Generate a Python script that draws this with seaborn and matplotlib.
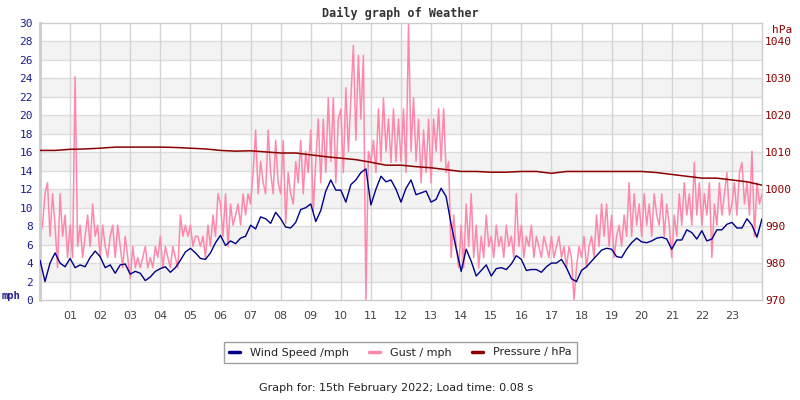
import numpy as np
import pandas as pd
import matplotlib
matplotlib.use("Agg")
import matplotlib.pyplot as plt
import seaborn as sns

# ---------- DATA ----------
# wind speed, mph, every 10 minutes from 00:00 to 24:00
wind_speed = [
    4.3, 2.0, 4.0, 5.1, 4.0, 3.6,      # 00
    4.5, 3.5, 3.8, 3.6, 4.6, 5.3,      # 01
    4.7, 3.5, 3.8, 2.9, 3.8, 3.9,      # 02
    2.8, 3.1, 2.9, 2.1, 2.5, 3.1,      # 03
    3.4, 3.6, 3.0, 3.5, 4.3, 5.2,      # 04
    5.6, 5.1, 4.5, 4.4, 5.1, 6.2,      # 05
    7.0, 5.9, 6.4, 6.1, 6.7, 6.9,      # 06
    8.1, 7.7, 9.0, 8.8, 8.3, 9.5,      # 07
    8.8, 7.9, 7.8, 8.4, 9.8, 10.0,     # 08
    10.4, 8.5, 9.7, 11.8, 13.0, 11.9,  # 09
    11.9, 10.6, 12.5, 13.0, 13.8, 14.2,  # 10
    10.3, 12.0, 13.4, 12.8, 13.0, 12.0,  # 11
    10.6, 12.1, 13.0, 11.4, 11.6, 11.8,  # 12
    10.6, 10.9, 12.1, 11.2, 8.2, 5.6,  # 13
    3.1, 5.5, 4.2, 2.6, 3.2, 3.8,      # 14
    2.6, 3.4, 3.5, 3.3, 3.9, 4.8,      # 15
    4.4, 3.2, 3.3, 3.3, 3.0, 3.6,      # 16
    4.0, 4.0, 4.4, 3.5, 2.3, 2.0,      # 17
    3.2, 3.6, 4.2, 4.8, 5.4, 5.6,      # 18
    5.5, 4.7, 4.6, 5.5, 6.2, 6.7,      # 19
    6.3, 6.2, 6.4, 6.7, 6.8, 6.6,      # 20
    5.5, 6.5, 6.5, 7.6, 7.3, 6.6,      # 21
    7.5, 6.4, 6.6, 7.6, 7.6, 8.2,      # 22
    8.4, 7.8, 7.8, 8.8, 8.1, 6.8,      # 23
    8.8,
]

# gust, mph, every 5 minutes
gust = [
    6.9, 8.1, 11.5, 12.7, 6.9, 11.5, 8.1, 3.5, 11.5, 6.9, 9.2, 4.6,        # 00
    8.1, 4.6, 24.2, 5.8, 8.1, 4.6, 6.9, 9.2, 5.8, 10.4, 6.9, 8.1,          # 01
    4.6, 8.1, 5.8, 4.6, 6.9, 8.1, 4.6, 8.1, 5.8, 3.5, 6.9, 4.6,            # 02
    2.3, 5.8, 3.5, 4.6, 3.5, 4.6, 5.8, 3.5, 4.6, 3.5, 5.8, 4.6,            # 03
    6.9, 3.5, 5.8, 4.6, 3.5, 5.8, 4.6, 3.5, 9.2, 6.9, 8.1, 6.9,            # 04
    8.1, 5.8, 6.9, 6.9, 5.8, 6.9, 4.6, 8.1, 5.8, 9.2, 6.9, 11.5,           # 05
    10.4, 6.9, 11.5, 5.8, 10.4, 8.1, 9.2, 10.4, 8.1, 11.5, 9.2, 11.5,      # 06
    10.4, 13.8, 18.4, 11.5, 15.0, 12.7, 11.5, 18.4, 13.8, 11.5, 17.3, 12.7,  # 07
    11.5, 17.3, 8.3, 13.8, 11.5, 10.4, 15.0, 12.7, 17.3, 11.5, 16.1, 13.8,   # 08
    18.4, 9.6, 15.0, 19.6, 12.7, 19.6, 13.8, 21.9, 15.0, 21.9, 12.7, 19.6,   # 09
    20.7, 13.8, 23.0, 16.1, 21.9, 27.6, 17.3, 26.5, 19.6, 26.5, 0.0, 16.1,   # 10
    15.0, 17.3, 13.8, 20.7, 15.0, 21.9, 16.1, 19.6, 14.9, 20.7, 15.0, 19.6,  # 11
    15.0, 20.7, 13.8, 29.9, 16.1, 21.9, 15.0, 19.6, 12.7, 18.4, 13.8, 19.6,  # 12
    12.7, 19.6, 16.1, 20.7, 15.0, 20.7, 13.8, 15.0, 4.6, 9.2, 5.8, 3.5,      # 13
    8.1, 3.5, 10.4, 5.8, 11.5, 4.6, 8.1, 3.5, 6.9, 4.6, 9.2, 5.8,          # 14
    6.9, 4.6, 8.1, 5.8, 6.9, 4.6, 8.1, 5.8, 6.9, 4.6, 11.5, 5.8,           # 15
    8.1, 4.6, 6.9, 5.8, 8.1, 4.6, 6.9, 5.8, 4.6, 6.9, 5.8, 4.6,            # 16
    6.9, 4.6, 5.8, 6.9, 4.6, 5.8, 3.5, 5.8, 4.6, 0.0, 3.5, 5.8,            # 17
    4.6, 6.9, 3.5, 5.8, 6.9, 4.6, 9.2, 5.8, 10.4, 6.9, 10.4, 5.8,          # 18
    9.2, 4.6, 6.9, 8.1, 5.8, 9.2, 6.9, 12.7, 6.9, 11.5, 8.1, 10.4,         # 19
    6.9, 11.5, 8.1, 10.4, 6.9, 11.5, 9.2, 8.1, 11.5, 6.9, 10.4, 8.1,       # 20
    4.6, 9.2, 6.9, 11.5, 8.1, 12.7, 9.2, 11.5, 8.1, 14.9, 9.2, 12.7,       # 21
    8.1, 11.5, 9.2, 12.7, 4.6, 10.4, 8.1, 12.7, 9.2, 11.5, 13.8, 9.2,      # 22
    10.4, 12.7, 9.2, 13.8, 14.9, 10.4, 12.7, 9.2, 16.1, 6.9, 12.7, 10.4,   # 23
    11.5,
]

# pressure, hPa, every 30 minutes
pressure = [
    1010.5, 1010.5, 1010.8, 1010.9, 1011.1, 1011.4, 1011.4, 1011.4,
    1011.4, 1011.3, 1011.1, 1010.9, 1010.5, 1010.3, 1010.4, 1010.1,
    1009.8, 1009.8, 1009.3, 1008.8, 1008.4, 1008.0, 1007.3, 1006.5,
    1006.5, 1006.1, 1005.8, 1005.3, 1004.8, 1004.8, 1004.6, 1004.6,
    1004.8, 1004.8, 1004.3, 1004.8, 1004.8, 1004.8, 1004.8, 1004.8,
    1004.8, 1004.5, 1004.0, 1003.5, 1003.0, 1003.0, 1002.5, 1002.0,
    1001.1,
]

hour_labels = ["%02d" % h for h in range(1, 24)]
mph_ticks = list(range(0, 31, 2))
hpa_ticks = list(range(970, 1041, 10))

WIND_COL = "#000088"
GUST_COL = "#ff88aa"
PRES_COL = "#8b0000"

# ---------- FRAMES ----------
wind_df = pd.DataFrame({"hour": np.arange(len(wind_speed)) / 6, "mph": wind_speed})
gust_df = pd.DataFrame({"hour": np.arange(len(gust)) / 12, "mph": gust})
pres_df = pd.DataFrame({"hour": np.arange(len(pressure)) / 2, "hPa": pressure})

# ---------- PLOT ----------
sns.set_style("white")
plt.rcParams["font.family"] = ["DejaVu Sans"]

fig = plt.figure(figsize=(8, 4), dpi=100)
ax = fig.add_axes([0.05, 0.25, 0.9025, 0.6925])

# alternating bands + grid
for lo in range(2, 30, 4):
    ax.axhspan(lo, lo + 2, color="#f3f3f3", zorder=0, lw=0)
for y in mph_ticks[1:-1]:
    ax.axhline(y, color="#dcdcdc", lw=1, zorder=0.5)
for h in range(1, 24):
    ax.axvline(h, color="#d4d4d4", lw=1, zorder=0.5)

sns.lineplot(data=gust_df, x="hour", y="mph", ax=ax, color=GUST_COL, lw=1.1,
             label="Gust / mph", legend=False, zorder=2)
sns.lineplot(data=wind_df, x="hour", y="mph", ax=ax, color=WIND_COL, lw=1,
             label="Wind Speed /mph", legend=False, zorder=3)

ax.set_xlim(0, 24)
ax.set_ylim(0, 30)
ax.set_yticks(mph_ticks)
ax.set_yticklabels([str(t) for t in mph_ticks], family="DejaVu Sans Mono",
                   fontsize=8, color="#1c1c8c")
ax.set_xticks(range(1, 24))
ax.set_xticklabels(hour_labels, fontsize=8, color="#444444")
ax.tick_params(axis="y", length=0, pad=5)
ax.tick_params(axis="x", length=0, pad=8)
ax.set_xlabel("")
ax.set_ylabel("")
for s in ax.spines.values():
    s.set_color("#cccccc")
    s.set_linewidth(1)
ax.spines["left"].set_linewidth(2)

ax2 = ax.twinx()
sns.lineplot(data=pres_df, x="hour", y="hPa", ax=ax2, color=PRES_COL, lw=1.1,
             label="Pressure / hPa", legend=False)
ax2.set_ylim(970, 1045)
ax2.set_yticks(hpa_ticks)
ax2.set_yticklabels([str(t) for t in hpa_ticks], family="DejaVu Sans Mono",
                    fontsize=8, color=PRES_COL)
ax2.tick_params(axis="y", length=0, pad=2)
ax2.set_ylabel("")
for s in ax2.spines.values():
    s.set_visible(False)
ax.set_xlim(0, 24)

# texts
fig.text(0.5, 1 - 13 / 400, "Daily graph of Weather", ha="center", va="center",
         family="DejaVu Sans Mono", weight="bold", fontsize=8.5, color="#333333")
fig.text(0.002, 1 - 296 / 400, "mph", ha="left", va="center", weight="bold",
         fontsize=7.5, color="#1c1c8c", family="DejaVu Sans Mono")
fig.text(782 / 800, 1 - 30 / 400, "hPa", ha="center", va="center",
         fontsize=8, color=PRES_COL, family="DejaVu Sans Mono")
fig.text(396 / 800, 1 - 388 / 400,
         "Graph for: 15th February 2022; Load time: 0.08 s",
         ha="center", va="center", fontsize=8, color="#222222")

handles = ax.get_lines()
h_wind = [l for l in handles if l.get_label() == "Wind Speed /mph"][0]
h_gust = [l for l in handles if l.get_label() == "Gust / mph"][0]
h_pres = ax2.get_lines()[0]
leg = fig.legend([h_wind, h_gust, h_pres],
                 ["Wind Speed /mph", "Gust / mph", "Pressure / hPa"],
                 loc="center", bbox_to_anchor=(400.5 / 800, 1 - 352.5 / 400),
                 ncol=3, fontsize=8, frameon=True, fancybox=False,
                 edgecolor="#888888", handlelength=1.0, handletextpad=0.9,
                 columnspacing=1.8, borderpad=0.5)
leg.get_frame().set_linewidth(1)
for l in leg.get_lines():
    l.set_linewidth(2.5)
for t in leg.get_texts():
    t.set_color("#222222")

fig.savefig("out.png", dpi=100)
